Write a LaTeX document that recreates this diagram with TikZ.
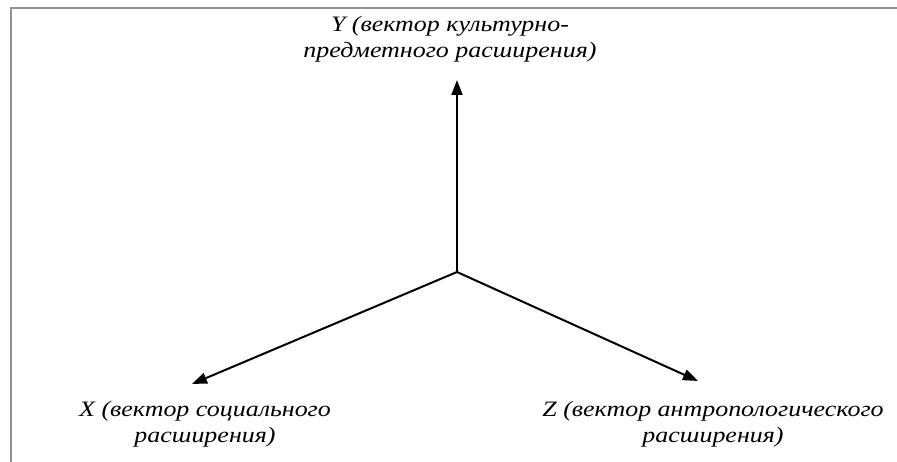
\documentclass[tikz,border=0pt]{standalone}
\usepackage{fontspec}
\setmainfont{Liberation Serif}[FakeStretch=1.18]
\usetikzlibrary{arrows.meta}
\begin{document}
\begin{tikzpicture}[x=1pt,y=-1pt,
  axis/.style={line width=2pt,-{Triangle[length=15pt,width=11pt]}},
  lbl/.style={align=center,font=\fontsize{22}{26.5}\selectfont\itshape,inner sep=0pt}]
\useasboundingbox (0,0) rectangle (897,462);
\draw[gray!85,line width=2.2pt] (11,462) -- (11,8) -- (897,8);
\coordinate (O) at (457,272);
\coordinate (Ytip) at (457,80);
\coordinate (Xtip) at (192,384);
\coordinate (Ztip) at (698,381);
\draw[axis] (O) -- (Ytip);
\draw[axis] (O) -- (Xtip);
\draw[axis] (O) -- (Ztip);
\node[lbl] (Ylab) at (450,39) {Y (вектор культурно-\\предметного расширения)};
\node[lbl] (Xlab) at (205,424) {X (вектор социального\\расширения)};
\node[lbl] (Zlab) at (713,424) {Z (вектор антропологического\\расширения)};
\end{tikzpicture}
\end{document}
